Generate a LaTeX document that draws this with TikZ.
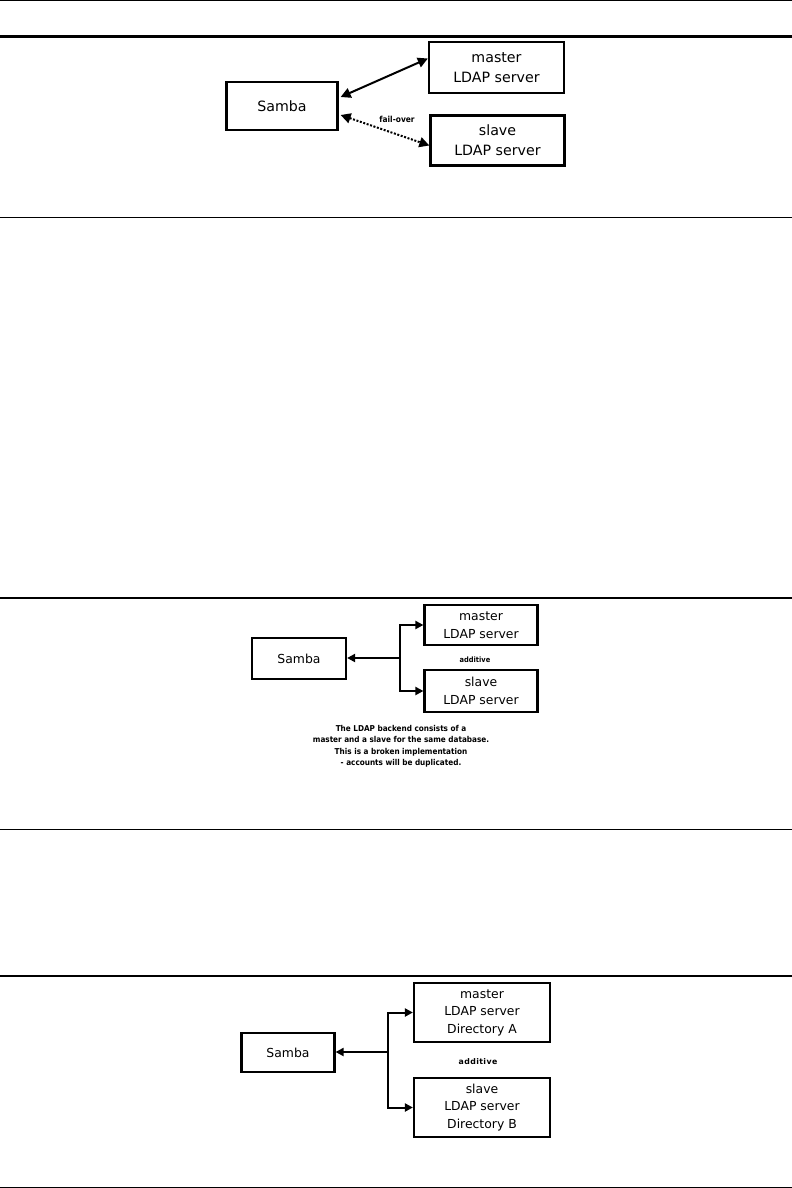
\documentclass[tikz,border=0pt]{standalone}
\usepackage{fontspec}
\setmainfont{DejaVu Sans}
\newfontfamily\cnd{DejaVu Sans Condensed}[BoldFont={DejaVu Sans Condensed Bold}]
\usetikzlibrary{arrows.meta}
\begin{document}
\begin{tikzpicture}[x=1pt,y=-1pt,
  rulethin/.style={line width=1.1pt},
  rulethick/.style={line width=2.6pt},
  boxa/.style={draw,line width=2.3pt,rectangle,inner sep=0pt,align=center,font=\fontsize{14.2}{20}\selectfont},
  boxb/.style={draw,line width=2.2pt,rectangle,inner sep=0pt,align=center,font=\fontsize{12.4}{17.5}\selectfont},
  conn/.style={line width=2pt},
  lbl/.style={inner sep=0pt,font=\cnd\bfseries\fontsize{8.3}{10}\selectfont},
  para/.style={inner sep=0pt,align=center,font=\cnd\bfseries\fontsize{8.1}{11.5}\selectfont}
]
\useasboundingbox (0,0) rectangle (792,1188);
% rules
\draw[rulethin] (0,0.8) -- (792,0.8);
\draw[rulethick] (0,36.5) -- (792,36.5);
\draw[rulethin] (0,217.5) -- (792,217.5);
\draw[rulethick] (0,598) -- (792,598);
\draw[rulethin] (0,829.5) -- (792,829.5);
\draw[rulethick] (0,976) -- (792,976);
\draw[rulethin] (0,1187.2) -- (792,1187.2);

% ---------- diagram 1
\node[boxa,minimum width=111pt,minimum height=48pt] (samba1) at (282,106) {Samba};
\node[boxa,minimum width=135pt,minimum height=51pt] (master1) at (496.5,67.5) {master\\LDAP server};
\node[boxa,minimum width=134pt,minimum height=50pt] (slave1) at (497.5,140.5) {slave\\LDAP server};
\draw[conn,{Triangle[length=10pt,width=10pt]}-{Triangle[length=10pt,width=10pt]}]
  ([xshift=2pt,yshift=9pt]samba1.east) -- ([yshift=9pt]master1.west);
\draw[conn,dash pattern=on 2pt off 1.6pt,{Triangle[length=10pt,width=10pt]}-{Triangle[length=10pt,width=10pt]}]
  ([xshift=2pt,yshift=-9pt]samba1.east) -- ([yshift=-5pt]slave1.west);
\node[lbl] (fo) at (397,119) {fail-over};

% ---------- diagram 2
\node[boxb,minimum width=94pt,minimum height=41pt] (samba2) at (299,658.5) {Samba};
\node[boxb,minimum width=113pt,minimum height=40pt] (master2) at (481,625) {master\\LDAP server};
\node[boxb,minimum width=113pt,minimum height=42pt] (slave2) at (481,691) {slave\\LDAP server};
\coordinate (j2) at (400,658);
\draw[conn,-{Triangle[length=8pt,width=8pt]}] (j2) -- (samba2.east |- j2);
\draw[conn,-{Triangle[length=8pt,width=8pt]}] (j2) |- (master2.west);
\draw[conn,-{Triangle[length=8pt,width=8pt]}] (j2) |- (slave2.west);
\node[lbl,font=\cnd\bfseries\fontsize{7.4}{9}\selectfont] (add2) at (475,660) {additive};
\node[para] (note2) at (401,746.5) {The LDAP backend consists of a\\master and a slave for the same database.\\This is a broken implementation\\- accounts will be duplicated.};

% ---------- diagram 3
\node[boxb,minimum width=93pt,minimum height=39pt] (samba3) at (288,1052.5) {Samba};
\node[boxb,minimum width=136pt,minimum height=59pt] (master3) at (482,1012.5) {master\\LDAP server\\Directory A};
\node[boxb,minimum width=136pt,minimum height=59pt] (slave3) at (482,1107.5) {slave\\LDAP server\\Directory B};
\coordinate (j3) at (388,1052);
\draw[conn,-{Triangle[length=8pt,width=8pt]}] (j3) -- (samba3.east |- j3);
\draw[conn,-{Triangle[length=8pt,width=8pt]}] (j3) |- (master3.west);
\draw[conn,-{Triangle[length=8pt,width=8pt]}] (j3) |- (slave3.west);
\node[lbl,font=\bfseries\fontsize{7.8}{9}\selectfont\addfontfeature{LetterSpace=5}] (add3) at (478,1062) {additive};
\end{tikzpicture}
\end{document}
